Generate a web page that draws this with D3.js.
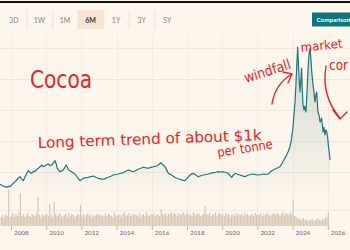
<!DOCTYPE html>
<html>
<head>
<meta charset="utf-8">
<script src="https://cdn.jsdelivr.net/npm/d3@7"></script>
<style>
  html, body { margin: 0; padding: 0; background: #fdf6ec; }
  svg { display: block; }
</style>
</head>
<body>
<svg id="chart" width="350" height="250"></svg>
<script>
// price, $ per tonne (decimal year, value)
const priceDates = [
  2007.38, 2007.47, 2007.56, 2007.66, 2007.76, 2007.85, 2007.94, 2008.04, 2008.13, 2008.22,
  2008.32, 2008.41, 2008.51, 2008.60, 2008.70, 2008.78, 2008.85, 2008.92, 2008.98, 2009.08,
  2009.18, 2009.27, 2009.36, 2009.45, 2009.55, 2009.64, 2009.74, 2009.83, 2009.93, 2010.02,
  2010.12, 2010.22, 2010.31, 2010.40, 2010.50, 2010.57, 2010.63, 2010.70, 2010.78, 2010.88,
  2010.97, 2011.05, 2011.13, 2011.20, 2011.26, 2011.36, 2011.45, 2011.55, 2011.64, 2011.73,
  2011.82, 2011.92, 2012.01, 2012.11, 2012.25, 2012.39, 2012.53, 2012.68, 2012.82, 2012.96,
  2013.10, 2013.24, 2013.38, 2013.53, 2013.67, 2013.81, 2013.95, 2014.10, 2014.24, 2014.38,
  2014.52, 2014.66, 2014.80, 2014.95, 2015.09, 2015.23, 2015.37, 2015.52, 2015.66, 2015.80,
  2015.94, 2016.09, 2016.18, 2016.28, 2016.40, 2016.52, 2016.63, 2016.75, 2016.85, 2016.94,
  2017.04, 2017.13, 2017.22, 2017.32, 2017.46, 2017.60, 2017.75, 2017.89, 2018.03, 2018.17,
  2018.26, 2018.36, 2018.50, 2018.64, 2018.78, 2018.93, 2019.07, 2019.21, 2019.35, 2019.49,
  2019.63, 2019.78, 2019.92, 2020.06, 2020.20, 2020.35, 2020.45, 2020.54, 2020.63, 2020.73,
  2020.87, 2021.01, 2021.15, 2021.30, 2021.39, 2021.48, 2021.63, 2021.77, 2021.91, 2022.05,
  2022.20, 2022.34, 2022.48, 2022.62, 2022.71, 2022.81, 2022.95, 2023.10, 2023.19, 2023.28,
  2023.38, 2023.47, 2023.56, 2023.66, 2023.75, 2023.85, 2023.94, 2024.02, 2024.08, 2024.14,
  2024.19, 2024.23, 2024.29, 2024.33, 2024.38, 2024.42, 2024.47, 2024.51, 2024.55, 2024.59,
  2024.65, 2024.70, 2024.76, 2024.82, 2024.88, 2024.93, 2024.99, 2025.04, 2025.09, 2025.16,
  2025.21, 2025.27, 2025.32, 2025.37, 2025.44, 2025.50, 2025.56, 2025.65, 2025.73, 2025.78,
  2025.84, 2025.89, 2025.94, 2026.00, 2026.03, 2026.08, 2026.13
];
const priceValues = [
  1508, 1430, 1371, 1320, 1266, 1340, 1315, 1450, 1589, 1700,
  1855, 2010, 2121, 1950, 1798, 2050, 2258, 2480, 2605, 2470,
  2395, 2560, 2524, 2690, 2798, 2900, 3065, 2930, 2984, 3080,
  3145, 3020, 3065, 3210, 3411, 3150, 2798, 2660, 2524, 2610,
  2661, 2850, 3065, 2900, 2661, 2600, 2524, 2420, 2339, 2150,
  1992, 1798, 1900, 1992, 2040, 2073, 2130, 2177, 2080, 1992,
  1950, 1911, 1990, 2073, 2160, 2258, 2300, 2339, 2400, 2444,
  2560, 2661, 2590, 2524, 2620, 2718, 2800, 2879, 2840, 2798,
  2870, 2927, 2960, 2984, 3100, 3250, 3080, 2927, 2650, 2395,
  2310, 2258, 2150, 2056, 1980, 1911, 1850, 1798, 2020, 2258,
  2330, 2395, 2250, 2121, 2200, 2258, 2300, 2339, 2400, 2444,
  2480, 2524, 2500, 2524, 2460, 2395, 2200, 2073, 2250, 2395,
  2320, 2258, 2190, 2121, 2200, 2258, 2300, 2339, 2290, 2258,
  2300, 2339, 2310, 2339, 2470, 2605, 2700, 2798, 2860, 2927,
  3150, 3387, 3600, 3871, 4150, 4516, 5200, 6048, 7200, 8145,
  9600, 10887, 12581, 11200, 9800, 8952, 9900, 10887, 9200, 7903,
  7500, 7800, 7339, 9000, 10887, 11900, 12500, 11600, 10565, 9516,
  9000, 8145, 8700, 8952, 7339, 7100, 6532, 6855, 5726, 6100,
  5484, 5900, 5726, 5200, 4677, 4100, 3468
];

// volume, thousand lots per month, from Jun 2007
const volumeStart = 2007 + 5 / 12;
const volumeValues = [
  9, 11, 8, 12, 10, 36, 9,
  11, 13, 9, 12, 10, 14, 33, 10, 12, 9, 11, 13,
  10, 9, 12, 11, 10, 13, 29, 11, 9, 12, 10, 11,
  12, 10, 22, 11, 9, 24, 12, 10, 11, 13, 9, 10,
  11, 12, 9, 13, 10, 12, 11, 9, 10, 12, 11, 21,
  10, 12, 9, 11, 13, 10, 12, 9, 11, 10, 12, 11,
  12, 10, 11, 9, 13, 10, 12, 11, 10, 9, 14, 11,
  10, 12, 11, 9, 12, 14, 10, 11, 13, 10, 12, 11,
  12, 11, 10, 13, 9, 11, 12, 10, 14, 11, 10, 12,
  11, 13, 10, 12, 11, 10, 17, 12, 11, 13, 10, 12,
  12, 14, 11, 13, 12, 10, 13, 11, 12, 14, 11, 12,
  13, 11, 12, 10, 14, 12, 11, 13, 12, 10, 11, 13,
  20, 12, 11, 13, 10, 12, 11, 14, 10, 12, 13, 11,
  12, 10, 13, 11, 12, 9, 11, 12, 10, 13, 11, 12,
  11, 12, 10, 13, 11, 12, 10, 11, 12, 10, 13, 11,
  12, 11, 13, 10, 12, 11, 13, 12, 10, 11, 12, 13,
  11, 13, 12, 10, 12, 14, 11, 13, 12, 11, 14, 12,
  27, 10, 9, 7, 8, 6, 7, 8, 6, 7, 5, 6,
  6, 7, 5, 6, 7, 8, 6, 5, 7, 6, 8, 9,
  14
];

const yearTicks = [2008, 2010, 2012, 2014, 2016, 2018, 2020, 2022, 2024, 2026];
const priceGrid = [2500, 5000, 7500, 10000, 12500];
const rangeButtons = ["3D", "1W", "1M", "6M", "1Y", "3Y", "5Y"];
const activeButton = "6M";

const svg = d3.select("#chart");
const W = 350, H = 250;
const red = "#e3262c";
const teal = "#1d777c";

svg.append("rect").attr("width", W).attr("height", H).attr("fill", "#fdf6ec");

// top strip + range buttons
svg.append("rect").attr("x", 0).attr("y", 1).attr("width", W).attr("height", 2).attr("fill", "#111");

const btnX = d3.scaleBand().domain(rangeButtons).range([1, 180]);
const btns = svg.append("g").attr("class", "buttons");
btns.selectAll("rect.hl")
    .data(rangeButtons.filter(d => d === activeButton))
    .enter().append("rect")
    .attr("x", d => btnX(d))
    .attr("y", 10)
    .attr("width", btnX.bandwidth())
    .attr("height", 19)
    .attr("fill", "#f7e4d2");
btns.selectAll("line")
    .data(rangeButtons.slice(1))
    .enter().append("line")
    .attr("x1", d => btnX(d) + 0.5).attr("x2", d => btnX(d) + 0.5)
    .attr("y1", 10).attr("y2", 29)
    .attr("stroke", "#efe2d5");
btns.selectAll("text")
    .data(rangeButtons)
    .enter().append("text")
    .attr("x", d => btnX(d) + btnX.bandwidth() / 2)
    .attr("y", 22.5)
    .attr("text-anchor", "middle")
    .attr("font-family", "Lato, 'Open Sans', sans-serif")
    .attr("font-size", 7)
    .attr("font-weight", d => d === activeButton ? 700 : 400)
    .attr("fill", d => d === activeButton ? "#3a3532" : "#8a827c")
    .text(d => d);

svg.append("rect").attr("x", 312).attr("y", 12.5).attr("width", 40).attr("height", 14).attr("fill", "#0d7680");
svg.append("text")
    .attr("x", 316.5).attr("y", 22)
    .attr("font-family", "Lato, 'Open Sans', sans-serif")
    .attr("font-size", 6.3)
    .attr("font-weight", 700)
    .attr("fill", "#fff")
    .text("Comparison");

// scales
const x = d3.scaleLinear().domain([2008, 2026]).range([11, 327.8]);
const y = d3.scaleLinear().domain([0, 12500]).range([203, 48]);
const vy = d3.scaleLinear().domain([0, 40]).range([226, 186]);

// grid
svg.append("g").selectAll("line")
    .data(priceGrid)
    .enter().append("line")
    .attr("x1", 0).attr("x2", W)
    .attr("y1", d => Math.round(y(d)) + 0.5).attr("y2", d => Math.round(y(d)) + 0.5)
    .attr("stroke", "#efe5da").attr("stroke-width", 0.8);
svg.append("line")
    .attr("x1", 0).attr("x2", W).attr("y1", vy(16) + 0.5).attr("y2", vy(16) + 0.5)
    .attr("stroke", "#efe5da").attr("stroke-width", 0.8);
svg.append("g").selectAll("line")
    .data(yearTicks)
    .enter().append("line")
    .attr("x1", d => Math.round(x(d)) + 0.5).attr("x2", d => Math.round(x(d)) + 0.5)
    .attr("y1", 34).attr("y2", 226)
    .attr("stroke", "#ede3d8").attr("stroke-width", 0.8)
    .attr("stroke-dasharray", "2,1");

// volume bars
const barW = x(2008 + 1 / 12) - x(2008);
svg.append("g").selectAll("rect")
    .data(volumeValues)
    .enter().append("rect")
    .attr("x", (d, i) => x(volumeStart + i / 12))
    .attr("y", d => vy(d))
    .attr("width", barW * 0.8)
    .attr("height", d => vy(0) - vy(d))
    .attr("fill", "#d6c6b5");

// price area + line
const pts = priceDates.map((d, i) => [d, priceValues[i]]);
const grad = svg.append("defs").append("linearGradient")
    .attr("id", "fade").attr("gradientUnits", "userSpaceOnUse")
    .attr("x1", 0).attr("x2", 0).attr("y1", y(12500)).attr("y2", 200);
grad.append("stop").attr("offset", 0).attr("stop-color", "#5f8f8c").attr("stop-opacity", 0.28);
grad.append("stop").attr("offset", 1).attr("stop-color", "#5f8f8c").attr("stop-opacity", 0);

svg.append("path")
    .datum(pts)
    .attr("fill", "url(#fade)")
    .attr("d", d3.area().x(d => x(d[0])).y0(200).y1(d => y(d[1])));
svg.append("path")
    .datum(pts)
    .attr("fill", "none")
    .attr("stroke", teal)
    .attr("stroke-width", 1.2)
    .attr("stroke-linejoin", "round")
    .attr("d", d3.line().x(d => x(d[0])).y(d => y(d[1])));

// x axis
const xAxis = svg.append("g")
    .attr("transform", "translate(0,226)")
    .call(d3.axisBottom(x).tickValues(yearTicks).tickFormat(d3.format("d")).tickSize(4));
xAxis.select(".domain").remove();
xAxis.selectAll(".tick line").attr("stroke", "#bfb3a7");
xAxis.selectAll(".tick text")
    .attr("x", 2.5).attr("y", 4.5)
    .attr("text-anchor", "start")
    .attr("font-family", "Lato, 'Open Sans', sans-serif")
    .attr("font-size", 6.3)
    .attr("fill", "#6f6862");

// hand-written notes
const notes = [
  { text: "Cocoa", x: 30, y: 88, size: 24, len: 62, rot: 0 },
  { text: "Long term trend of about $1k", x: 38, y: 148, size: 15, len: 224, rot: -2 },
  { text: "per tonne", x: 218, y: 157, size: 13, len: 56, rot: -9 },
  { text: "windfall", x: 246, y: 83, size: 14, len: 48, rot: -18 },
  { text: "market", x: 301, y: 52, size: 12.5, len: 42, rot: -6 },
  { text: "cor", x: 329, y: 70, size: 14, len: 19, rot: 0 }
];
svg.append("g").selectAll("text")
    .data(notes)
    .enter().append("text")
    .attr("x", d => d.x).attr("y", d => d.y)
    .attr("transform", d => `rotate(${d.rot},${d.x},${d.y})`)
    .attr("font-family", "'DejaVu Sans', sans-serif")
    .attr("font-size", d => d.size)
    .attr("textLength", d => d.len)
    .attr("lengthAdjust", "spacingAndGlyphs")
    .attr("fill", red)
    .text(d => d.text);

const arrows = [
  "M272,104 Q275,84 292,74 M283,72 L292,74 L288,83",
  "M326,66 Q321,96 340,118 M333,110 L340,119 L347,112"
];
svg.append("g").selectAll("path")
    .data(arrows)
    .enter().append("path")
    .attr("d", d => d)
    .attr("fill", "none")
    .attr("stroke", red)
    .attr("stroke-width", 1.4)
    .attr("stroke-linecap", "round")
    .attr("stroke-linejoin", "round");
</script>
</body>
</html>
